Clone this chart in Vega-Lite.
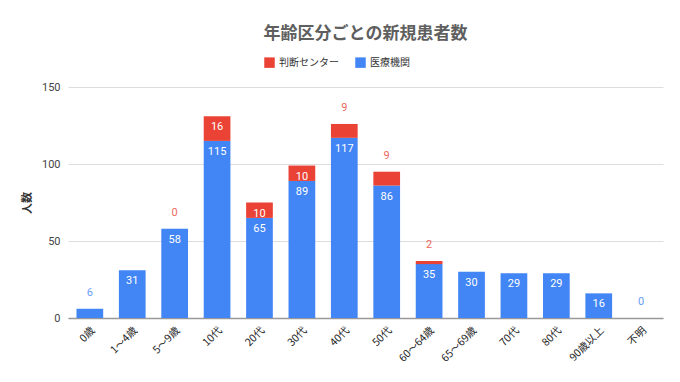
{
  "$schema": "https://vega.github.io/schema/vega-lite/v6.json",
  "width": 595,
  "height": 231,
  "autosize": {"type": "none"},
  "padding": {"left": 68, "top": 87, "right": 17, "bottom": 64},
  "background": "white",
  "title": {
    "text": "年齢区分ごとの新規患者数",
    "font": "Noto Sans CJK JP",
    "fontSize": 17,
    "fontWeight": "bold",
    "color": "#5f5f5f",
    "anchor": "middle",
    "frame": "group",
    "offset": 14
  },
  "config": {
    "font": "Roboto, Noto Sans CJK JP",
    "view": {"stroke": null}
  },
  "data": {
    "values": [
      {"age": "0歳", "series": "医療機関", "value": 6},
      {"age": "1〜4歳", "series": "医療機関", "value": 31},
      {"age": "5〜9歳", "series": "医療機関", "value": 58},
      {"age": "5〜9歳", "series": "判断センター", "value": 0},
      {"age": "10代", "series": "医療機関", "value": 115},
      {"age": "10代", "series": "判断センター", "value": 16},
      {"age": "20代", "series": "医療機関", "value": 65},
      {"age": "20代", "series": "判断センター", "value": 10},
      {"age": "30代", "series": "医療機関", "value": 89},
      {"age": "30代", "series": "判断センター", "value": 10},
      {"age": "40代", "series": "医療機関", "value": 117},
      {"age": "40代", "series": "判断センター", "value": 9},
      {"age": "50代", "series": "医療機関", "value": 86},
      {"age": "50代", "series": "判断センター", "value": 9},
      {"age": "60〜64歳", "series": "医療機関", "value": 35},
      {"age": "60〜64歳", "series": "判断センター", "value": 2},
      {"age": "65〜69歳", "series": "医療機関", "value": 30},
      {"age": "70代", "series": "医療機関", "value": 29},
      {"age": "80代", "series": "医療機関", "value": 29},
      {"age": "90歳以上", "series": "医療機関", "value": 16},
      {"age": "不明", "series": "医療機関", "value": 0}
    ]
  },
  "transform": [
    {"stack": "value", "groupby": ["age"], "sort": [{"field": "series", "order": "descending"}], "as": ["y0", "y1"]}
  ],
  "encoding": {
    "x": {
      "field": "age",
      "type": "nominal",
      "sort": null,
      "scale": {"paddingInner": 0.37, "paddingOuter": 0.2},
      "axis": {
        "title": null,
        "labelAngle": -45,
        "labelFontSize": 10.5,
        "labelColor": "#222222",
        "labelFont": "Noto Sans CJK JP",
        "ticks": false,
        "labelPadding": 7,
        "domainColor": "#999999",
        "domainWidth": 1.5
      }
    },
    "y": {
      "field": "y1",
      "type": "quantitative",
      "scale": {"domain": [0, 150], "nice": false},
      "axis": {
        "title": "人数",
        "titleFont": "Noto Sans CJK JP",
        "titleFontSize": 11,
        "titleColor": "#333333",
        "titleFontWeight": "bold",
        "titlePadding": 9,
        "values": [0, 50, 100, 150],
        "labelFontSize": 11,
        "labelColor": "#444444",
        "labelPadding": 8,
        "ticks": false,
        "domain": false,
        "gridColor": "#dddddd"
      }
    }
  },
  "layer": [
    {
      "mark": {"type": "bar"},
      "encoding": {
        "y2": {"field": "y0"},
        "color": {
          "field": "series",
          "type": "nominal",
          "scale": {"domain": ["判断センター", "医療機関"], "range": ["#ea4335", "#4285f4"]},
          "legend": {
            "title": null,
            "orient": "none",
            "direction": "horizontal",
            "legendX": 196,
            "legendY": -30,
            "symbolType": "square",
            "symbolSize": 110,
            "symbolStrokeWidth": 0,
            "labelFont": "Noto Sans CJK JP",
            "labelFontSize": 10,
            "labelColor": "#333333",
            "columnPadding": 16
          }
        }
      }
    },
    {
      "transform": [{"filter": "datum.value >= 10"}],
      "mark": {"type": "text", "baseline": "middle", "dy": 11, "fontSize": 11, "color": "white"},
      "encoding": {
        "text": {"field": "value", "type": "quantitative"}
      }
    },
    {
      "transform": [{"filter": "datum.value < 10"}],
      "mark": {"type": "text", "baseline": "middle", "dy": -16, "fontSize": 11, "opacity": 0.8},
      "encoding": {
        "text": {"field": "value", "type": "quantitative"},
        "color": {"field": "series", "type": "nominal", "legend": null}
      }
    }
  ]
}
